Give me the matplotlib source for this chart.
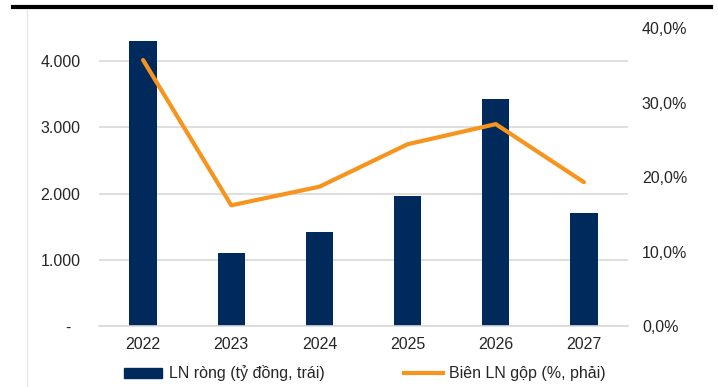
import matplotlib.pyplot as plt
from matplotlib.lines import Line2D
from matplotlib.patches import Patch
from matplotlib.ticker import FuncFormatter

plt.rcParams['font.family'] = ['Liberation Sans', 'DejaVu Sans']

years = ['2022', '2023', '2024', '2025', '2026', '2027']
net_profit = [4300, 1100, 1420, 1960, 3425, 1705]
gross_margin = [35.7, 16.2, 18.7, 24.4, 27.1, 19.3]

navy = '#002a5c'
orange = '#f7941d'
grid = '#d9d9d9'
txt = '#262626'
fs = 11.5

fig = plt.figure(figsize=(7.18, 3.87), dpi=100)
ax = fig.add_axes([0.1379, 0.1576, 0.7368, 0.77])
ax2 = ax.twinx()

x = list(range(len(years)))
ax.bar(x, net_profit, width=0.31, color=navy, zorder=2)
ax.set_ylim(0, 4500)
ax.set_xlim(-0.5, len(years) - 0.5)
ax.set_yticks([0, 1000, 2000, 3000, 4000])
ax.yaxis.set_major_formatter(FuncFormatter(
    lambda v, p: '-  ' if v == 0 else f'{int(v):,}'.replace(',', '.')))
ax.grid(axis='y', color=grid, linewidth=1.2, zorder=0)
ax.set_xticks(x)
ax.set_xticklabels(years)

ax2.plot(x, gross_margin, color=orange, linewidth=3, solid_capstyle='round', zorder=3)
ax2.set_ylim(0, 40)
ax2.set_yticks([0, 10, 20, 30, 40])
ax2.yaxis.set_major_formatter(FuncFormatter(lambda v, p: f'{v:.1f}%'.replace('.', ',')))

for a in (ax, ax2):
    for s in a.spines.values():
        s.set_visible(False)
    a.tick_params(length=0, labelsize=fs, colors=txt)
ax.tick_params(axis='y', pad=13.5)
ax.tick_params(axis='x', pad=8)
ax2.tick_params(axis='y', pad=10)
ax.spines['bottom'].set_visible(True)
ax.spines['bottom'].set_color(grid)
ax.spines['bottom'].set_linewidth(1.2)

# frame lines
fig.add_artist(Line2D([0.018, 0.99], [0.982, 0.982], color='black', linewidth=3))
fig.add_artist(Line2D([0.038, 0.038], [0.0, 0.975], color='#e6e6e6', linewidth=1))

handles = [Patch(color=navy), Line2D([0], [0], color=orange, linewidth=3)]
labels = ['LN ròng (tỷ đồng, trái)', 'Biên LN gộp (%, phải)']
fig.legend(handles, labels, loc='center', bbox_to_anchor=(0.508, 0.035), ncol=2,
           frameon=False, fontsize=fs, handlelength=2.4, handleheight=0.6,
           columnspacing=5.0, handletextpad=0.4, labelcolor=txt)

fig.savefig('out.png', dpi=100)
